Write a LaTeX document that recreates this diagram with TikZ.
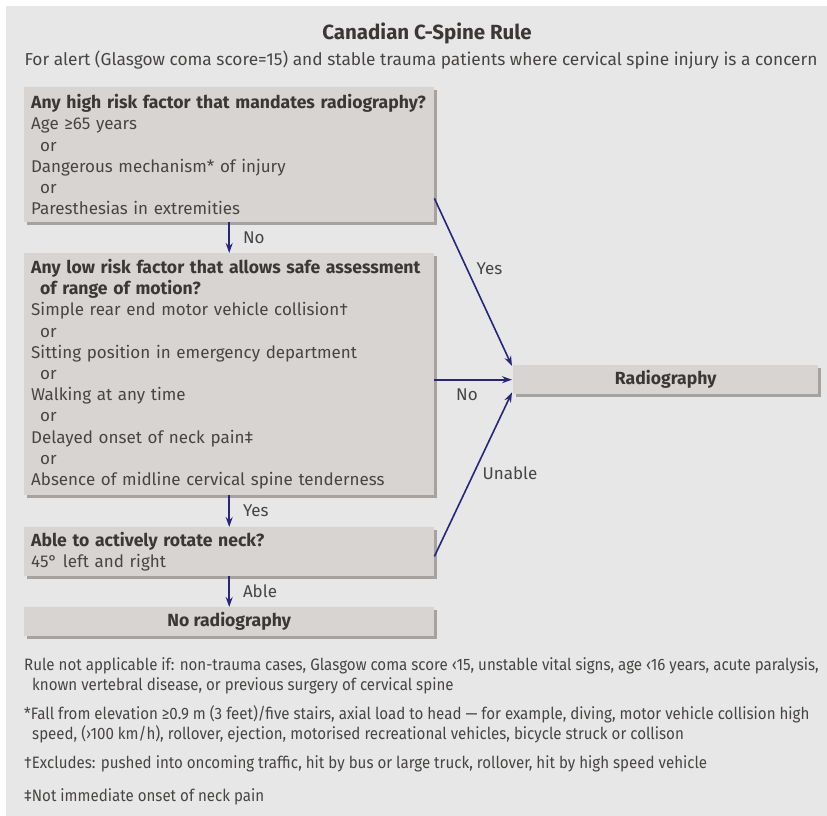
\documentclass[tikz,border=0pt]{standalone}
\usepackage{fontspec}
\setmainfont{Fira Sans}
\newfontfamily\condfont[FakeStretch=0.915]{Fira Sans}
\usetikzlibrary{shadows,arrows.meta,calc}
\definecolor{bgc}{HTML}{E7E7E7}
\definecolor{boxc}{HTML}{D8D4D1}
\definecolor{shadc}{HTML}{A6A2A0}
\definecolor{txtc}{HTML}{474544}
\definecolor{boldc}{HTML}{3B3736}
\definecolor{arrc}{HTML}{27267A}
\tikzset{
  box/.style={fill=boxc, anchor=north west, inner xsep=7pt, inner ysep=0pt,
    general shadow={fill=shadc, shadow xshift=3pt, shadow yshift=-3pt},
    font=\fontsize{17}{21.2}\selectfont, text=txtc},
  leftbox/.style={box, align=left, text width=#1},
  arr/.style={draw=arrc, line width=1.6pt, -{Stealth[length=10pt,width=7pt]}},
  lab/.style={font=\fontsize{17}{19}\selectfont, text=txtc, inner sep=0pt},
  note/.style={font=\condfont\fontsize{16.5}{20.5}\selectfont, text=txtc, align=left, anchor=north west, inner sep=0pt},
}
\newcommand{\hd}[1]{{\fontsize{17.6}{21.2}\selectfont\bfseries\color{boldc}#1}}
\newcommand{\orr}{\hspace*{9pt}or}
\begin{document}
\begin{tikzpicture}[x=1pt,y=-1pt]
\useasboundingbox (0,0) rectangle (827,816);
\fill[bgc] (6,6) rectangle (827,816);
\node[font=\bfseries\fontsize{20.5}{24}\selectfont, text=boldc, inner sep=0pt] (title) at (427,33) {Canadian C-Spine Rule};
\node[font=\fontsize{17.3}{20}\selectfont, text=txtc, inner sep=0pt] (sub) at (421,60) {For alert (Glasgow coma score=15) and stable trauma patients where cervical spine injury is a concern};

\node[leftbox=396pt, minimum width=410pt, minimum height=135pt] (q1) at (24,87) {%
\hd{Any high risk factor that mandates radiography?}\\
Age ≥65 years\\
\orr\\
Dangerous mechanism* of injury\\
\orr\\
Paresthesias in extremities};

\node[leftbox=396pt, minimum width=410pt, minimum height=242pt] (q2) at (24,253) {%
\hd{Any low risk factor that allows safe assessment}\\
\hd{\hspace*{9pt}of range of motion?}\\
Simple rear end motor vehicle collision†\\
\orr\\
Sitting position in emergency department\\
\orr\\
Walking at any time\\
\orr\\
Delayed onset of neck pain‡\\
\orr\\
Absence of midline cervical spine tenderness};

\node[leftbox=396pt, minimum width=410pt, minimum height=49pt] (q3) at (24,527) {%
\hd{Able to actively rotate neck?}\\
45° left and right};

\node[box, minimum width=410pt, minimum height=29pt] (norad) at (24,607) {\hd{No radiography}};
\node[box, minimum width=305pt, minimum height=29pt] (rad) at (513,365) {\hd{Radiography}};

\draw[arr] (q1.south) -- node[lab, right=13pt, pos=0.5] {No} (q2.north);
\draw[arr] (q2.south) -- node[lab, right=13pt, pos=0.5] {Yes} (q3.north);
\draw[arr] (q3.south) -- node[lab, right=13pt, pos=0.5] {Able} (norad.north);

\draw[arr] ([yshift=24pt]q1.south east) -- ([xshift=-1pt,yshift=-1pt]rad.north west);
\draw[arr] (q2.east |- rad.west) -- ([xshift=-1pt]rad.west);
\draw[arr] ([yshift=20pt]q3.south east) -- ([xshift=-1pt,yshift=2pt]rad.south west);
\node[lab] (lyes) at (489.5,269) {Yes};
\node[lab] (lno) at (467,395) {No};
\node[lab] (lunable) at (510,473) {Unable};

\node[note] (n1) at (24,657) {Rule not applicable if: non-trauma cases, Glasgow coma score ‹15, unstable vital signs, age ‹16 years, acute paralysis,\\
\hspace*{8pt}known vertebral disease, or previous surgery of cervical spine};
\node[note] (n2) at (24,705) {*Fall from elevation ≥0.9 m (3 feet)/five stairs, axial load to head — for example, diving, motor vehicle collision high\\
\hspace*{8pt}speed, (›100 km/h), rollover, ejection, motorised recreational vehicles, bicycle struck or collison};
\node[note] (n3) at (24,755) {†Excludes: pushed into oncoming traffic, hit by bus or large truck, rollover, hit by high speed vehicle};
\node[note] (n4) at (24,788) {‡Not immediate onset of neck pain};
\end{tikzpicture}
\end{document}
